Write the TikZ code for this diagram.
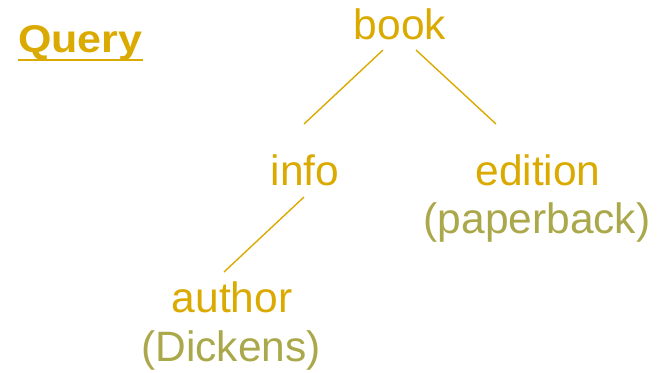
\documentclass[tikz,border=0pt]{standalone}
\usepackage{fontspec}
\setmainfont{Liberation Sans}
\definecolor{gold}{RGB}{218,170,0}
\definecolor{olive}{RGB}{170,168,74}
\begin{document}
\begin{tikzpicture}[x=1pt,y=-1pt,
  label/.style={inner sep=0pt,anchor=base,text=gold,font=\fontsize{42.5}{50}\selectfont},
  value/.style={label,text=olive},
  edge/.style={draw=gold,line width=1.4pt}]
\useasboundingbox (0,0) rectangle (663,372);
% title, underlined by a separate rule
\node[label,anchor=base west,font=\fontsize{43}{50}\selectfont\bfseries] (title) at (18,52) {\scalebox{1}[0.9]{Query}};
\draw[gold,line width=2.6pt] ([yshift=-8pt]title.base west) -- ([yshift=-8pt]title.base east);
% tree
\node[label] (book) at (400,39) {book};
\node[label] (info) at (305,185) {info};
\node[label] (edition) at (538,185) {edition};
\node[value] (paperback) at (537,233) {(paperback)};
\node[label] (author) at (232,312) {author};
\node[value] (dickens) at (231,361) {(Dickens)};
% connectors
\draw[edge] ([shift={(-17,11)}]book.base) -- ([shift={(-1,-61)}]info.base);
\draw[edge] ([shift={(16,11)}]book.base) -- ([shift={(-42,-61)}]edition.base);
\draw[edge] ([shift={(-1,12)}]info.base) -- ([shift={(-8,-40)}]author.base);
\end{tikzpicture}
\end{document}
